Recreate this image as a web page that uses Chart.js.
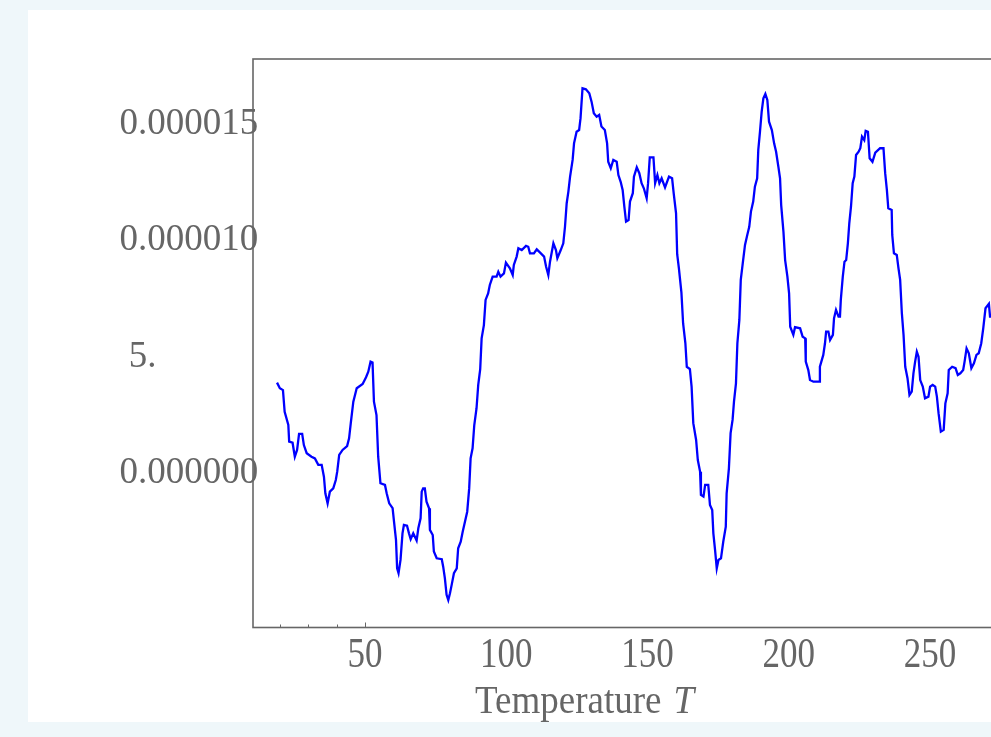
<!DOCTYPE html>
<html>
<head>
<meta charset="utf-8">
<script src="https://cdn.jsdelivr.net/npm/chart.js"></script>
<style>
  html, body { margin: 0; padding: 0; background: #eff7fa; overflow: hidden; }
  #panel { position: absolute; left: 28px; top: 10px; width: 1000px; height: 712px; background: #fff; }
  #canvas { display: block; }
</style>
</head>
<body>
<div id="panel"><canvas id="canvas" width="1000" height="712"></canvas></div>
<script>
// temperature T and the plotted quantity (units of 1e-6)
const temps = [
  18.9, 19.9, 21.0, 21.6, 22.9, 23.2, 24.4, 25.2, 26.0, 26.7, 27.8, 28.4, 29.4, 31.1, 32.3, 33.5, 34.7, 35.5, 36.0, 36.8,
  37.6, 38.8, 39.7, 40.2, 40.9, 42.1, 43.7, 44.4, 45.0, 45.9, 47.1, 49.2, 50.4, 51.2, 52.0, 52.7, 53.2, 54.1, 54.7, 55.5,
  57.1, 57.7, 58.6, 59.8, 60.3, 61.0, 61.4, 61.9, 62.6, 63.3, 63.8, 64.9, 65.6, 66.2, 67.1, 68.3, 68.9, 69.7, 70.1, 70.6,
  71.2, 71.8, 72.7, 73.0, 74.0, 74.4, 75.4, 77.2, 77.7, 78.3, 78.9, 79.5, 80.1, 80.7, 81.5, 82.5, 83.0, 83.9, 84.6, 85.4,
  86.2, 86.9, 87.4, 88.1, 88.7, 89.5, 90.1, 90.8, 91.3, 92.1, 92.7, 93.6, 94.2, 95.2, 96.6, 97.2, 98.0, 99.2, 99.9, 101.3,
  102.3, 102.7, 103.7, 104.3, 105.5, 107.0, 107.8, 108.4, 109.8, 110.8, 112.0, 113.4, 114.1, 114.9, 115.5, 116.7, 117.6, 118.1, 119.3, 120.2,
  120.8, 121.4, 122.0, 122.6, 123.5, 124.0, 124.9, 125.8, 126.3, 127.0, 128.2, 129.4, 130.2, 131.0, 132.0, 132.9, 133.7, 134.9, 135.7, 136.1,
  137.0, 137.9, 139.1, 139.7, 140.5, 141.2, 141.8, 142.4, 143.3, 143.8, 144.8, 145.2, 146.2, 147.1, 147.9, 148.7, 149.7, 150.2, 150.8, 152.1,
  152.7, 153.5, 154.2, 155.0, 156.2, 157.6, 158.7, 159.3, 160.1, 160.5, 161.1, 162.0, 162.6, 163.4, 163.9, 165.0, 165.6, 166.2, 167.2, 167.8,
  168.6, 168.9, 169.8, 170.4, 171.5, 172.1, 172.9, 173.3, 173.9, 174.5, 175.1, 176.0, 176.8, 177.7, 178.0, 178.8, 179.4, 180.1, 180.6, 181.3,
  181.8, 182.5, 183.0, 183.7, 184.5, 185.3, 186.0, 186.6, 187.4, 188.0, 188.8, 189.2, 189.8, 190.4, 191.0, 191.7, 192.4, 193.0, 194.0, 194.8,
  195.5, 196.3, 196.9, 197.3, 198.1, 198.7, 199.5, 200.1, 200.5, 201.6, 202.2, 204.0, 204.9, 205.8, 206.0, 206.9, 207.5, 208.7, 209.9, 210.8,
  211.0, 212.2, 212.8, 213.2, 214.0, 214.6, 215.6, 216.0, 216.7, 217.6, 218.1, 218.4, 219.1, 219.7, 220.3, 220.9, 221.4, 222.0, 222.6, 223.2,
  223.8, 224.7, 225.3, 225.9, 226.7, 227.2, 228.0, 228.6, 229.6, 230.6, 232.3, 233.5, 234.1, 234.7, 235.2, 236.4, 236.6, 237.2, 238.2, 238.8,
  239.4, 240.0, 240.6, 241.2, 242.0, 242.7, 243.5, 244.1, 244.7, 245.3, 245.9, 246.5, 247.4, 248.2, 249.4, 250.0, 250.9, 251.8, 252.4, 253.0,
  253.8, 254.8, 255.4, 256.2, 256.6, 257.8, 259.0, 259.8, 260.7, 261.7, 262.2, 262.9, 263.7, 264.6, 265.5, 266.4, 267.2, 268.1, 268.8, 269.6,
  270.8, 271.2, 272.3, 273.5
];
const sigma = [
  3.77, 3.53, 3.45, 2.52, 1.95, 1.24, 1.19, 0.59, 0.88, 1.57, 1.57, 1.09, 0.74, 0.59, 0.52, 0.24, 0.24, -0.27, -0.98, -1.41,
  -0.91, -0.77, -0.41, -0.05, 0.67, 0.88, 1.05, 1.38, 2.03, 2.95, 3.53, 3.71, 4.00, 4.24, 4.67, 4.63, 2.95, 2.38, 0.59, -0.55,
  -0.62, -0.98, -1.41, -1.62, -2.20, -2.98, -4.20, -4.41, -3.84, -2.70, -2.34, -2.37, -2.70, -2.95, -2.70, -3.01, -2.48, -2.05, -0.91, -0.77,
  -0.77, -1.34, -1.62, -2.55, -2.77, -3.48, -3.77, -3.81, -4.13, -4.63, -5.34, -5.56, -5.27, -4.91, -4.41, -4.20, -3.34, -3.06, -2.63, -2.20,
  -1.77, -0.77, 0.52, 0.95, 1.95, 2.67, 3.67, 4.35, 5.67, 6.24, 7.32, 7.60, 7.96, 8.32, 8.32, 8.53, 8.32, 8.46, 8.92, 8.68,
  8.39, 8.82, 9.18, 9.54, 9.46, 9.64, 9.60, 9.32, 9.32, 9.49, 9.35, 9.18, 8.75, 8.39, 8.96, 9.75, 9.46, 9.11, 9.46, 9.75,
  10.46, 11.47, 11.97, 12.61, 13.33, 14.04, 14.54, 14.61, 15.12, 16.40, 16.36, 16.19, 15.83, 15.33, 15.18, 15.26, 14.76, 14.61, 14.04, 13.25,
  12.97, 13.33, 13.25, 12.68, 12.39, 12.04, 11.32, 10.68, 10.75, 11.54, 11.90, 12.61, 13.01, 12.76, 12.33, 12.11, 11.68, 12.33, 13.44, 13.44,
  12.33, 12.68, 12.33, 12.54, 12.15, 12.61, 12.54, 11.86, 11.04, 9.28, 8.68, 7.63, 6.31, 5.46, 4.45, 4.35, 3.60, 2.03, 1.31, 0.45,
  -0.05, -1.05, -1.12, -0.62, -0.62, -1.48, -1.70, -2.70, -3.41, -4.20, -3.84, -3.77, -3.06, -2.41, -0.98, 0.09, 1.60, 2.17, 2.95, 3.74,
  5.46, 6.46, 8.18, 8.89, 9.68, 10.11, 10.46, 11.11, 11.54, 12.18, 12.54, 13.76, 14.54, 15.40, 15.97, 16.16, 15.90, 14.97, 14.61, 14.04,
  13.68, 13.04, 12.54, 11.39, 10.25, 9.03, 8.32, 7.60, 6.17, 5.82, 6.15, 6.10, 5.74, 5.67, 4.67, 4.31, 3.88, 3.81, 3.81, 3.81,
  4.45, 4.96, 5.46, 5.96, 5.96, 5.60, 5.82, 6.53, 6.89, 6.60, 6.60, 7.32, 8.32, 8.96, 9.03, 9.75, 10.61, 11.32, 12.33, 12.61,
  13.54, 13.68, 13.83, 14.33, 14.18, 14.58, 14.54, 13.40, 13.25, 13.64, 13.83, 13.83, 12.76, 12.04, 11.25, 11.18, 10.11, 9.32, 9.25, 8.68,
  8.18, 6.75, 5.82, 4.45, 3.96, 3.24, 3.38, 4.17, 4.67, 5.10, 4.88, 3.88, 3.60, 3.10, 3.17, 3.60, 3.67, 3.60, 3.17, 2.45,
  1.67, 1.74, 2.88, 3.31, 4.31, 4.45, 4.39, 4.10, 4.17, 4.31, 4.67, 5.24, 5.03, 4.39, 4.60, 4.96, 5.03, 5.46, 6.10, 6.96,
  7.15, 6.60, 6.60, 6.70
];

const xTicks = [50, 100, 150, 200, 250];
const xTickLabels = ['50', '100', '150', '200', '250'];
const xMinorTicks = [20, 30, 40, 50];
const yTicks = [0, 5, 10, 15];
const yTickLabels = ['0.000000', ' 5.', '0.000010', '0.000015'];

const textColor = '#666666';
const frameColor = '#666666';

function stretchedText(ctx, s, x, y, sy) {
  ctx.save();
  ctx.translate(x, y);
  ctx.scale(1, sy);
  ctx.fillText(s, 0, 0);
  ctx.restore();
}

const framePlugin = {
  id: 'frame',
  beforeDatasetsDraw(chart) {
    const ctx = chart.ctx;
    const x = chart.scales.x, y = chart.scales.y;
    ctx.save();
    ctx.fillStyle = textColor;
    ctx.textBaseline = 'alphabetic';

    ctx.font = '37px "Liberation Serif"';
    ctx.textAlign = 'left';
    yTicks.forEach((v, i) => {
      stretchedText(ctx, yTickLabels[i], 91.5, y.getPixelForValue(v) + 13, 1.05);
    });

    ctx.font = '35px "Liberation Serif"';
    ctx.textAlign = 'center';
    xTicks.forEach((v, i) => {
      stretchedText(ctx, xTickLabels[i], x.getPixelForValue(v), 656.5, 1.2);
    });

    ctx.textAlign = 'left';
    ctx.font = '37px "Liberation Serif"';
    const word = 'Temperature';
    const left = 447;
    stretchedText(ctx, word, left, 703, 1.1);
    const w = ctx.measureText(word).width;
    ctx.font = 'italic 37px "Liberation Serif"';
    stretchedText(ctx, 'T', left + w + 12, 703, 1.1);
    ctx.restore();
  },
  afterDraw(chart) {
    const ctx = chart.ctx, a = chart.chartArea;
    const x = chart.scales.x;
    ctx.save();
    ctx.strokeStyle = frameColor;
    ctx.lineWidth = 1.6;
    ctx.strokeRect(a.left, a.top, a.right - a.left, a.bottom - a.top);
    ctx.lineWidth = 1;
    xMinorTicks.forEach(t => {
      const px = Math.round(x.getPixelForValue(t)) + 0.5;
      ctx.beginPath();
      ctx.moveTo(px, a.bottom);
      ctx.lineTo(px, a.bottom - (t % 50 === 0 ? 5 : 3));
      ctx.stroke();
    });
    ctx.restore();
  }
};

const ctx = document.getElementById('canvas');
new Chart(ctx, {
  type: 'line',
  data: {
    datasets: [{
      data: temps.map((t, i) => ({ x: t, y: sigma[i] })),
      borderColor: '#0000ff',
      borderWidth: 2.3,
      borderJoinStyle: 'miter',
      pointRadius: 0,
      tension: 0,
      fill: false
    }]
  },
  options: {
    responsive: false,
    animation: false,
    layout: { padding: { left: 225, top: 49, bottom: 94.5, right: 10 } },
    plugins: { legend: { display: false }, tooltip: { enabled: false } },
    scales: {
      x: { type: 'linear', min: 10.4, max: 281.1, display: false },
      y: { type: 'linear', min: -6.74, max: 17.66, display: false }
    }
  },
  plugins: [framePlugin]
});
</script>
</body>
</html>
